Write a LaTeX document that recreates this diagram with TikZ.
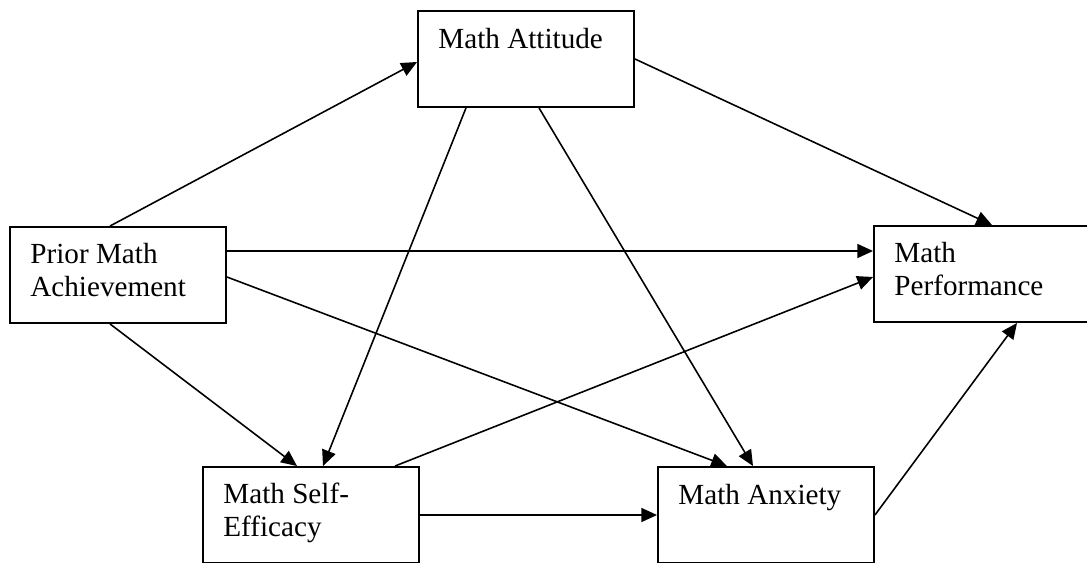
\documentclass[tikz,border=0pt]{standalone}
\usepackage{fontspec}
\setmainfont{Liberation Serif}
\usetikzlibrary{arrows.meta}

\begin{document}
\begin{tikzpicture}[x=0.02cm, y=-0.02cm,
  factor/.style={draw, line width=1.1pt, minimum width=4.32cm, minimum height=1.92cm, inner sep=0pt},
  lbl/.style={anchor=base west, inner sep=0pt, align=left, font=\fontsize{16.6}{18.4}\selectfont},
  link/.style={line width=0.9pt, -{Triangle[length=9pt, width=8pt]}}]
\useasboundingbox (0,0) rectangle (1087,563);
% boxes
\node[factor] (att)  at (526,59)  {};
\node[factor] (pm)   at (118,275) {};
\node[factor] (perf) at (982,274) {};
\node[factor] (se)   at (311,515) {};
\node[factor] (anx)  at (766,515) {};
% labels (base of the last line)
\node[lbl] (attT)  at ([shift={(21,38)}]att.north west)  {Math Attitude};
\node[lbl] (pmT)   at ([shift={(21,70)}]pm.north west)   {Prior Math\\Achievement};
\node[lbl] (perfT) at ([shift={(21,70)}]perf.north west) {Math\\Performance};
\node[lbl] (seT)   at ([shift={(21,70)}]se.north west)   {Math Self-\\Efficacy};
\node[lbl] (anxT)  at ([shift={(21,38)}]anx.north west)  {Math Anxiety};
% paths
\draw[link] ([shift={(-8,0)}]pm.north) -- ([shift={(0,3)}]att.west);
\draw[link] ([shift={(0,-24)}]pm.east) -- ([shift={(0,-23)}]perf.west);
\draw[link] ([shift={(0,2)}]pm.east) -- ([shift={(-39,0)}]anx.north);
\draw[link] ([shift={(-8,0)}]pm.south) -- ([shift={(-14,0)}]se.north);
\draw[link] ([shift={(-60,0)}]att.south) -- ([shift={(12,0)}]se.north);
\draw[link] ([shift={(13,0)}]att.south) -- ([shift={(-13,0)}]anx.north);
\draw[link] (att.east) -- ([shift={(10,0)}]perf.north);
\draw[link] ([shift={(84,0)}]se.north) -- ([shift={(0,3)}]perf.west);
\draw[link] (se.east) -- (anx.west);
\draw[link] (anx.east) -- ([shift={(35,0)}]perf.south);
\end{tikzpicture}
\end{document}
